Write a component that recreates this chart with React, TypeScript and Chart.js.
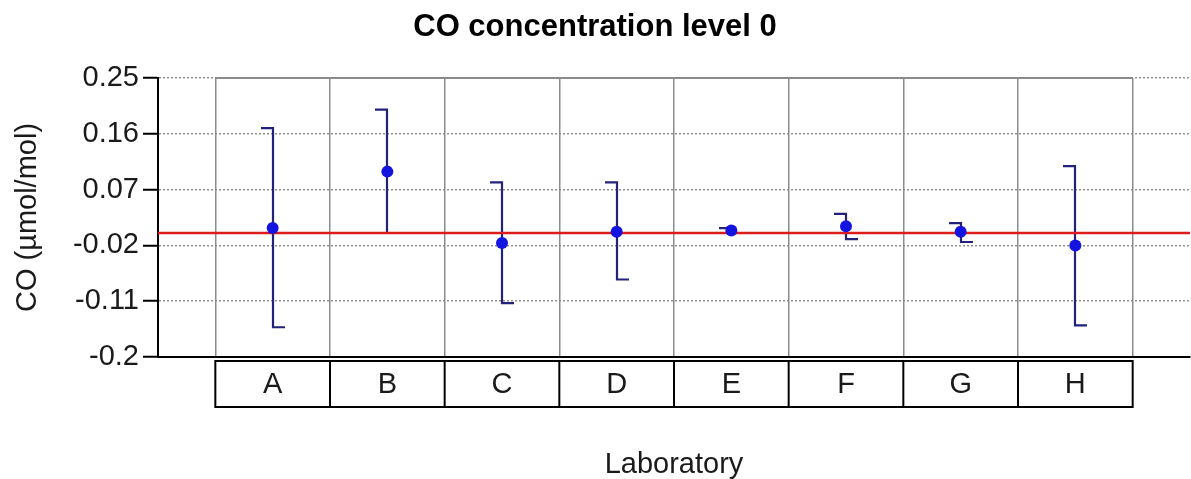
import React, { useEffect, useRef } from "react";
import { Chart, registerables } from "chart.js";

Chart.register(...registerables);

const TITLE = "CO concentration level 0";
const Y_TITLE = "CO (µmol/mol)";
const X_TITLE = "Laboratory";
const LABS = ["A", "B", "C", "D", "E", "F", "G", "H"];
const VALUES = [0.008, 0.099, -0.016, 0.002, 0.004, 0.011, 0.002, -0.02];
const UPPER = [0.169, 0.199, 0.0815, 0.0815, 0.008, 0.031, 0.016, 0.108];
const LOWER = [-0.152, 0.0, -0.113, -0.075, 0.0, -0.01, -0.0145, -0.149];
const REFERENCE = [0, 0];
const Y_TICKS = [-0.2, -0.11, -0.02, 0.07, 0.16, 0.25];
const X_RANGE = [-1, 8];

const FONT = "'Liberation Sans', Arial, sans-serif";
const TEXT = "#1a1a1a";

const errorBarPlugin = {
  id: "errorBars",
  beforeDatasetsDraw(chart: any) {
    const { ctx, chartArea, scales } = chart;
    const x = scales.x;
    const y = scales.y;
    // box top border
    const l = x.getPixelForValue(-0.5);
    const r = x.getPixelForValue(LABS.length - 0.5);
    ctx.save();
    ctx.strokeStyle = "#8a8a8a";
    ctx.lineWidth = 2;
    ctx.beginPath();
    ctx.moveTo(l, chartArea.top);
    ctx.lineTo(r, chartArea.top);
    ctx.stroke();
    // error bars
    ctx.strokeStyle = "#22227a";
    ctx.lineWidth = 2.2;
    LABS.forEach((_, i) => {
      const px = Math.round(x.getPixelForValue(i));
      const yt = y.getPixelForValue(UPPER[i]);
      const yb = y.getPixelForValue(LOWER[i]);
      ctx.beginPath();
      ctx.moveTo(px - 12, yt);
      ctx.lineTo(px, yt);
      ctx.lineTo(px, yb);
      ctx.lineTo(px + 12, yb);
      ctx.stroke();
    });
    ctx.restore();
  },
  afterDraw(chart: any) {
    const { ctx, chartArea, scales } = chart;
    const x = scales.x;
    const l = x.getPixelForValue(-0.5);
    const r = x.getPixelForValue(LABS.length - 0.5);
    const top = chartArea.bottom + 4;
    const bottom = chartArea.bottom + 50;
    ctx.save();
    ctx.strokeStyle = "#000";
    ctx.lineWidth = 2;
    ctx.strokeRect(l, top, r - l, bottom - top);
    for (let i = 1; i < LABS.length; i++) {
      const px = x.getPixelForValue(i - 0.5);
      ctx.beginPath();
      ctx.moveTo(px, top);
      ctx.lineTo(px, bottom);
      ctx.stroke();
    }
    ctx.fillStyle = TEXT;
    ctx.font = `29px ${FONT}`;
    ctx.textAlign = "center";
    ctx.textBaseline = "middle";
    LABS.forEach((lab, i) => {
      ctx.fillText(lab, x.getPixelForValue(i), (top + bottom) / 2 + 1);
    });
    ctx.restore();
  },
};

export default function App() {
  const ref = useRef<HTMLCanvasElement>(null);
  useEffect(() => {
    if (!ref.current) return;
    const X_GRID = LABS.map((_, i) => i - 0.5).concat([LABS.length - 0.5]);
    const chart = new Chart(ref.current, {
      type: "scatter",
      data: {
        datasets: [
          {
            type: "scatter",
            label: "values",
            data: VALUES.map((v, i) => ({ x: i, y: v })),
            pointRadius: 6,
            pointBackgroundColor: "#1414e0",
            pointBorderWidth: 0,
            order: 0,
          } as any,
          {
            type: "line",
            label: "reference",
            data: [
              { x: X_RANGE[0], y: REFERENCE[0] },
              { x: X_RANGE[1], y: REFERENCE[1] },
            ],
            borderColor: "#dd1c1c",
            borderWidth: 2.6,
            pointRadius: 0,
            order: 1,
          } as any,
        ],
      },
      options: {
        responsive: false,
        animation: false,
        devicePixelRatio: 1,
        layout: { autoPadding: false, padding: { left: 0, right: 1, top: 0, bottom: 0 } },
        plugins: {
          legend: { display: false },
          tooltip: { enabled: false },
          title: {
            display: true,
            text: TITLE,
            color: "#000",
            font: { family: FONT, size: 31, weight: "bold", lineHeight: 1.2 },
            padding: { top: 8.4, bottom: 32.4 },
          },
        },
        scales: {
          x: {
            type: "linear",
            min: X_RANGE[0],
            max: X_RANGE[1],
            afterBuildTicks: (scale: any) => {
              scale.ticks = X_GRID.map((v) => ({ value: v }));
            },
            afterFit: (scale: any) => {
              scale.height = 122;
            },
            ticks: { display: false },
            grid: { color: "#8c8c8c", lineWidth: 1.5, drawTicks: false },
            border: { color: "#000", width: 2 },
            title: {
              display: true,
              text: X_TITLE,
              color: TEXT,
              font: { family: FONT, size: 29, lineHeight: 1 },
              padding: { top: 0, bottom: -0.5 },
            },
          },
          y: {
            type: "linear",
            min: Y_TICKS[0],
            max: Y_TICKS[Y_TICKS.length - 1],
            afterBuildTicks: (scale: any) => {
              scale.ticks = Y_TICKS.map((v) => ({ value: v }));
            },
            afterFit: (scale: any) => {
              scale.width = 158;
            },
            ticks: {
              color: TEXT,
              font: { family: FONT, size: 29 },
              padding: 4,
              callback: (v: any) => `${v}`,
            },
            grid: {
              color: "#8f8f8f",
              lineWidth: 1.5,
              tickColor: "#000",
              tickWidth: 2,
              tickLength: 15,
              tickBorderDash: [],
            },
            border: { color: "#000", width: 2, dash: [2, 2] },
            title: {
              display: true,
              text: Y_TITLE,
              color: TEXT,
              font: { family: FONT, size: 29, lineHeight: 1.2 },
              padding: { top: 10.6, bottom: 0 },
            },
          },
        },
      } as any,
      plugins: [errorBarPlugin],
    });
    return () => chart.destroy();
  }, []);
  return (
    <div style={{ position: "absolute", left: 0, top: 0, width: 1191, height: 479, background: "#fff" }}>
      <canvas ref={ref} width={1191} height={479} style={{ display: "block" }} />
    </div>
  );
}
